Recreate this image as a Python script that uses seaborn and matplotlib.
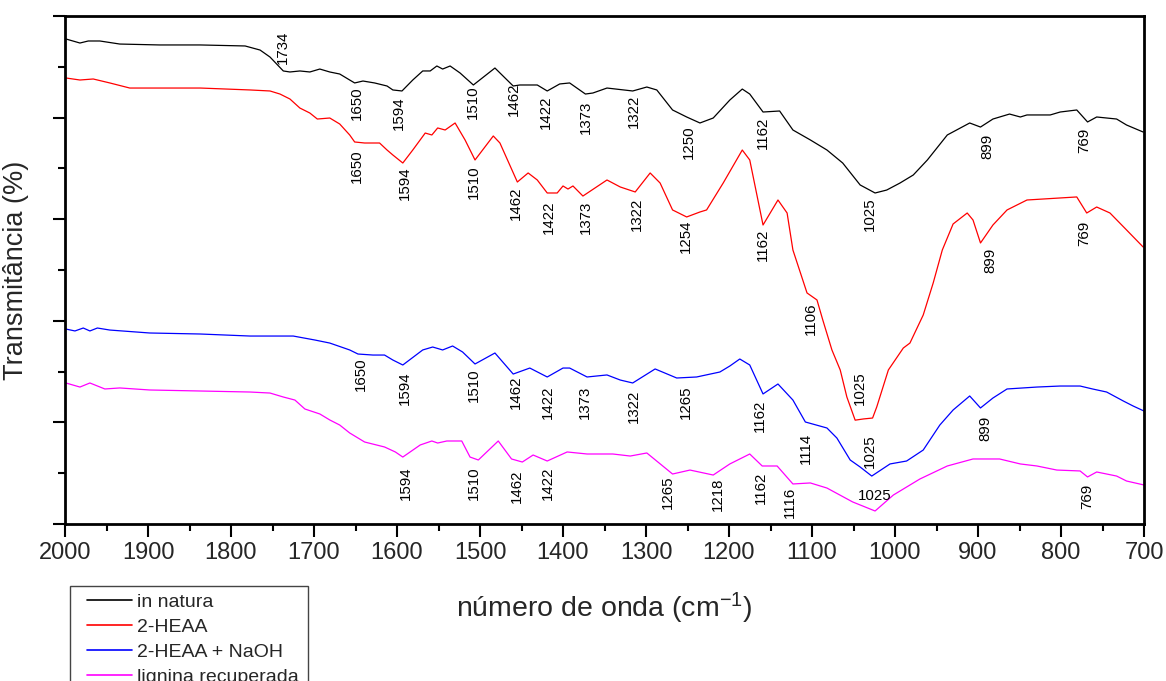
import numpy as np
import pandas as pd
import matplotlib
matplotlib.use("Agg")
import matplotlib.pyplot as plt
from matplotlib.patches import Rectangle
from matplotlib.ticker import MultipleLocator, NullFormatter
import seaborn as sns

# ---------------- FTIR spectra (wavenumber in cm-1, transmittance in arbitrary offset units)
natura_wn = [1999, 1982, 1972, 1958, 1934, 1886, 1837, 1783, 1765, 1753, 1737, 1729, 1717,
             1705, 1693, 1681, 1669, 1657, 1651, 1641, 1627, 1612, 1605, 1594, 1581, 1569,
             1560, 1552, 1545, 1536, 1524, 1508, 1482, 1460, 1452, 1431, 1419, 1404, 1392,
             1373, 1364, 1347, 1316, 1299, 1287, 1268, 1251, 1235, 1219, 1199, 1184, 1175,
             1159, 1139, 1123, 1102, 1082, 1063, 1042, 1024, 1010, 994, 978, 961, 937, 910,
             897, 882, 862, 849, 841, 813, 801, 781, 768, 757, 733, 721, 701]
natura_t = [4.774, 4.734, 4.754, 4.754, 4.724, 4.715, 4.715, 4.705, 4.665, 4.596, 4.459, 4.449,
            4.459, 4.449, 4.478, 4.449, 4.429, 4.370, 4.341, 4.360, 4.341, 4.311, 4.272, 4.262,
            4.370, 4.459, 4.459, 4.508, 4.478, 4.508, 4.439, 4.321, 4.488, 4.311, 4.321, 4.321,
            4.262, 4.331, 4.341, 4.232, 4.242, 4.291, 4.262, 4.301, 4.272, 4.075, 4.006, 3.947,
            3.996, 4.173, 4.281, 4.232, 4.055, 4.065, 3.878, 3.780, 3.681, 3.553, 3.337, 3.258,
            3.287, 3.356, 3.435, 3.583, 3.829, 3.947, 3.907, 3.986, 4.035, 4.006, 4.026, 4.026,
            4.055, 4.075, 3.957, 4.006, 3.986, 3.927, 3.858]

heaa_wn = [1999, 1982, 1966, 1946, 1922, 1898, 1837, 1777, 1753, 1741, 1729, 1717, 1705, 1696,
           1681, 1669, 1657, 1651, 1639, 1621, 1612, 1605, 1593, 1581, 1566, 1558, 1551, 1542,
           1530, 1518, 1506, 1484, 1476, 1455, 1442, 1431, 1419, 1407, 1400, 1394, 1388, 1376,
           1347, 1331, 1313, 1295, 1283, 1268, 1251, 1235, 1227, 1207, 1184, 1175, 1159, 1141,
           1130, 1123, 1106, 1094, 1087, 1076, 1066, 1058, 1048, 1038, 1027, 1022, 1008, 990,
           982, 966, 954, 943, 930, 913, 906, 897, 882, 865, 841, 801, 781, 769, 757, 741, 721,
           701]
heaa_t = [4.390, 4.370, 4.380, 4.341, 4.291, 4.291, 4.291, 4.272, 4.262, 4.232, 4.183, 4.094,
          4.045, 3.986, 3.996, 3.937, 3.829, 3.760, 3.750, 3.750, 3.681, 3.632, 3.553, 3.681,
          3.848, 3.829, 3.898, 3.878, 3.947, 3.780, 3.583, 3.819, 3.750, 3.366, 3.455, 3.386,
          3.258, 3.258, 3.327, 3.297, 3.327, 3.228, 3.386, 3.317, 3.268, 3.455, 3.356, 3.091,
          3.022, 3.071, 3.091, 3.356, 3.681, 3.583, 2.943, 3.189, 3.061, 2.697, 2.274, 2.205,
          2.008, 1.713, 1.516, 1.250, 1.022, 1.034, 1.043, 1.152, 1.516, 1.732, 1.781, 2.057,
          2.372, 2.697, 2.953, 3.061, 2.992, 2.766, 2.943, 3.091, 3.189, 3.209, 3.219, 3.061,
          3.120, 3.061, 2.894, 2.726]

naoh_wn = [1999, 1988, 1978, 1970, 1961, 1946, 1898, 1837, 1777, 1725, 1699, 1681, 1657, 1647,
           1629, 1615, 1605, 1593, 1569, 1557, 1545, 1533, 1521, 1506, 1482, 1460, 1440, 1419,
           1400, 1392, 1371, 1347, 1331, 1316, 1289, 1263, 1239, 1211, 1199, 1187, 1175, 1159,
           1141, 1123, 1108, 1082, 1070, 1054, 1042, 1028, 1006, 986, 966, 946, 930, 910, 897,
           882, 865, 829, 801, 777, 762, 745, 725, 713, 700]
naoh_t = [1.919, 1.900, 1.929, 1.900, 1.929, 1.909, 1.880, 1.870, 1.850, 1.850, 1.811, 1.781,
          1.713, 1.673, 1.663, 1.663, 1.614, 1.565, 1.713, 1.742, 1.713, 1.752, 1.693, 1.575,
          1.683, 1.476, 1.535, 1.447, 1.535, 1.535, 1.447, 1.467, 1.417, 1.388, 1.526, 1.437,
          1.447, 1.496, 1.555, 1.624, 1.565, 1.280, 1.378, 1.220, 1.004, 0.945, 0.846, 0.630,
          0.561, 0.472, 0.591, 0.620, 0.728, 0.974, 1.122, 1.260, 1.142, 1.240, 1.329, 1.348,
          1.358, 1.358, 1.329, 1.299, 1.211, 1.161, 1.112]

lignina_wn = [1999, 1982, 1970, 1952, 1934, 1898, 1837, 1777, 1753, 1737, 1723, 1711, 1693,
              1681, 1669, 1657, 1639, 1615, 1602, 1593, 1572, 1558, 1551, 1540, 1522, 1512,
              1502, 1478, 1462, 1449, 1436, 1419, 1395, 1371, 1340, 1319, 1299, 1268, 1247,
              1219, 1199, 1175, 1160, 1142, 1123, 1102, 1082, 1051, 1024, 1002, 970, 937, 906,
              874, 849, 829, 805, 777, 768, 757, 733, 721, 700]
lignina_t = [1.388, 1.348, 1.388, 1.329, 1.339, 1.319, 1.309, 1.299, 1.289, 1.250, 1.220,
             1.132, 1.083, 1.024, 0.974, 0.896, 0.807, 0.758, 0.709, 0.659, 0.778, 0.817,
             0.797, 0.817, 0.817, 0.659, 0.630, 0.817, 0.640, 0.610, 0.679, 0.620, 0.709,
             0.689, 0.689, 0.669, 0.699, 0.492, 0.531, 0.482, 0.591, 0.689, 0.571, 0.571,
             0.394, 0.404, 0.354, 0.217, 0.128, 0.285, 0.443, 0.571, 0.640, 0.640, 0.591,
             0.571, 0.531, 0.522, 0.463, 0.512, 0.472, 0.423, 0.384]

series_names = ["in natura", "2-HEAA", "2-HEAA + NaOH", "lignina recuperada"]
series_colors = ["#000000", "#ff0000", "#0000ff", "#ff00ff"]

# ---------------- band assignments: wavenumber, label height, small horizontal nudge (px)
natura_bands = [1734, 1650, 1594, 1510, 1462, 1422, 1373, 1322, 1250, 1162, 1025, 899, 769]
natura_band_y = [4.695, 4.144, 4.045, 4.154, 4.183, 4.055, 4.006, 4.065, 3.760, 3.848, 3.051, 3.720, 3.780]
natura_band_dx = [-3, 1, -3, 1, 2, 1, 0, 6, 1, 2, -4, 9, -2]

heaa_bands = [1650, 1594, 1510, 1462, 1422, 1373, 1322, 1254, 1162, 1106, 1025, 899, 769]
heaa_band_y = [3.524, 3.356, 3.366, 3.159, 3.022, 3.022, 3.051, 2.835, 2.746, 2.018, 1.339, 2.598, 2.864]
heaa_band_dx = [1, 3, 2, 4, 4, 0, 9, 2, 2, 4, -14, 12, -2]

naoh_bands = [1650, 1594, 1510, 1462, 1422, 1373, 1322, 1265, 1162, 1114, 1025, 899]
naoh_band_y = [1.476, 1.339, 1.368, 1.299, 1.201, 1.201, 1.161, 1.201, 1.063, 0.748, 0.719, 0.945]
naoh_band_dx = [5, 3, 2, 4, 3, -1, 6, 11, -1, 5, -4, 7]

lignina_bands = [1594, 1510, 1462, 1422, 1265, 1218, 1162, 1116, 1025, 769]
lignina_band_y = [0.404, 0.404, 0.374, 0.404, 0.315, 0.295, 0.354, 0.217, 0.276, 0.276]
lignina_band_dx = [4, 2, 5, 3, -7, 4, 0, -9, 0, 1]
lignina_band_rot = [90, 90, 90, 90, 90, 90, 90, 90, 0, 90]

x_ticks = [2000, 1900, 1800, 1700, 1600, 1500, 1400, 1300, 1200, 1100, 1000, 900, 800, 700]

# ---------------- assemble long-form table for seaborn
frames = []
for name, wn, t in zip(series_names,
                       [natura_wn, heaa_wn, naoh_wn, lignina_wn],
                       [natura_t, heaa_t, naoh_t, lignina_t]):
    frames.append(pd.DataFrame({"wn": wn, "T": t, "amostra": name}))
spectra = pd.concat(frames, ignore_index=True)

sns.set_style("ticks")
plt.rcParams["font.family"] = ["Liberation Sans", "DejaVu Sans"]
plt.rcParams["mathtext.fontset"] = "custom"
plt.rcParams["mathtext.rm"] = "Liberation Sans"
plt.rcParams["mathtext.it"] = "Liberation Sans:italic"

W, H = 1166, 681
fig = plt.figure(figsize=(W / 100, H / 100), dpi=100)
ax = fig.add_axes([65 / W, 1 - 524 / H, (1144 - 65) / W, (524 - 16) / H])

sns.lineplot(data=spectra, x="wn", y="T", hue="amostra", hue_order=series_names,
             palette=series_colors, estimator=None, sort=True, linewidth=0.9, ax=ax)

ax.set_xlim(2000, 700)
ax.set_ylim(0, 5)
ax.set_xticks(x_ticks)
ax.xaxis.set_minor_locator(MultipleLocator(50))
ax.yaxis.set_major_locator(MultipleLocator(1))
ax.yaxis.set_minor_locator(MultipleLocator(0.5))
ax.yaxis.set_major_formatter(NullFormatter())

for s in ax.spines.values():
    s.set_visible(True)
    s.set_linewidth(2.0)
    s.set_color("black")
ax.tick_params(axis="both", which="major", direction="out", length=9, width=1.5,
               labelsize=17, pad=4, top=False, right=False, color="black")
ax.tick_params(axis="both", which="minor", direction="out", length=5, width=1.5,
               top=False, right=False, color="black")

ax.set_xlabel("número de onda (cm$^{-1}$)", fontsize=20.5, labelpad=19)
ax.set_ylabel("Transmitância (%)", fontsize=19.5, labelpad=13)

# band labels
groups = [
    (natura_bands, natura_band_y, natura_band_dx, [90] * len(natura_bands)),
    (heaa_bands, heaa_band_y, heaa_band_dx, [90] * len(heaa_bands)),
    (naoh_bands, naoh_band_y, naoh_band_dx, [90] * len(naoh_bands)),
    (lignina_bands, lignina_band_y, lignina_band_dx, lignina_band_rot),
]
for bands, ys, dxs, rots in groups:
    for wn, y, dx, rot in zip(bands, ys, dxs, rots):
        ax.annotate(str(wn), xy=(wn, y), xytext=(dx * 0.72, 0), textcoords="offset points",
                    rotation=rot, ha="center", va="center", fontsize=10.8, color="black")

# legend below the plot area; its box runs off the bottom of the canvas
handles, labels = ax.get_legend_handles_labels()
leg = ax.legend(handles, labels, loc="upper left",
                bbox_to_anchor=(87 / W, 1 - 593 / H), bbox_transform=fig.transFigure,
                fontsize=14, frameon=False, labelspacing=0.38, handlelength=2.3,
                handletextpad=0.27, borderpad=0, borderaxespad=0)
for line in leg.get_lines():
    line.set_linewidth(1.2)
fig.add_artist(Rectangle((70 / W, -0.05), 238 / W, (H - 586) / H + 0.05,
                         transform=fig.transFigure, fill=False, edgecolor="#444444",
                         linewidth=1.0, clip_on=False))

fig.savefig("out.png", dpi=100)
